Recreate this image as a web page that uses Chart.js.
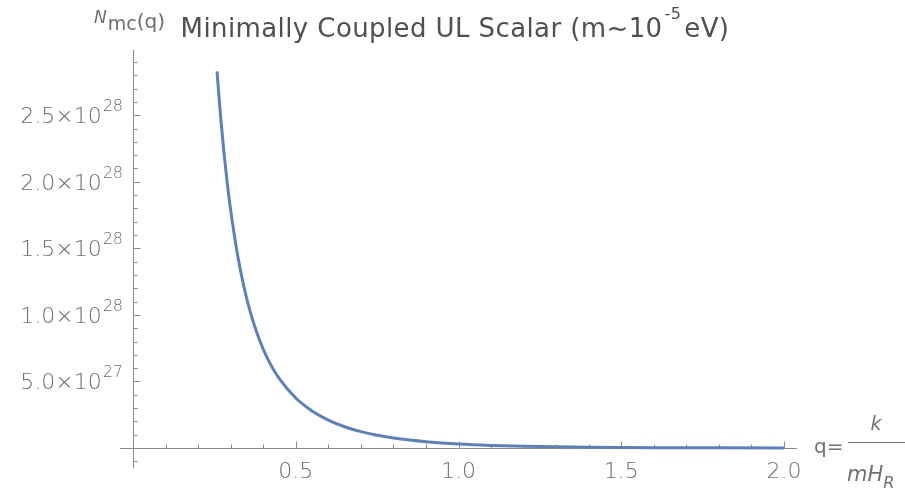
<!DOCTYPE html>
<html>
<head>
<meta charset="utf-8">
<script src="https://cdn.jsdelivr.net/npm/chart.js@4.4.1/dist/chart.umd.min.js"></script>
<style>
html,body{margin:0;padding:0;background:#ffffff;}
#wrap{width:905px;height:490px;position:relative;}
</style>
</head>
<body>
<div id="wrap"><canvas id="c" width="905" height="490"></canvas></div>
<script>
// ---- data ----
const qValues = [0.258, 0.27, 0.28, 0.29, 0.30, 0.32, 0.34, 0.36, 0.38, 0.40, 0.42, 0.45, 0.50, 0.55, 0.60, 0.65, 0.70, 0.75, 0.80, 0.85, 0.90, 1.0, 1.1, 1.2, 1.3, 1.4, 1.6, 1.8, 2.0];
const nValues = [2.83e28, 2.464e28, 2.205e28, 1.981e28, 1.787e28, 1.467e28, 1.219e28, 1.024e28, 8.69e27, 7.43e27, 6.40e27, 5.19e27, 3.76e27, 2.785e27, 2.096e27, 1.598e27, 1.232e27, 9.59e26, 7.53e26, 5.955e26, 4.74e26, 3.045e26, 1.99e26, 1.32e26, 8.9e25, 6.06e25, 2.9e25, 1.44e25, 7.2e24];

const xTickValues = [0.5, 1.0, 1.5, 2.0];
const xTickLabels = ["0.5", "1.0", "1.5", "2.0"];
const yTickValues = [5e27, 1e28, 1.5e28, 2e28, 2.5e28];
const yTickMantissas = ["5.0", "1.0", "1.5", "2.0", "2.5"];
const yTickExponents = ["27", "28", "28", "28", "28"];

const titleMain = "Minimally Coupled UL Scalar (m~10";
const titleSup = "-5";
const titleEnd = "eV)";

// ---- styling ----
const curveColor = "#5E81B5";
const axisColor = "#8a8a8a";
const labelColor = "#6c6c6c";
const titleColor = "#505050";
const FONT = '"DejaVu Sans"';

function px(scale, v) { return scale.getPixelForValue(v); }

const mathAxes = {
  id: "mathAxes",
  beforeDatasetsDraw(chart) {
    const ctx = chart.ctx, xs = chart.scales.x, ys = chart.scales.y, ca = chart.chartArea;
    const x0 = Math.round(px(xs, 0)) + 0.5;
    const y0 = Math.round(px(ys, 0)) + 0.5;
    ctx.save();
    ctx.strokeStyle = axisColor;
    ctx.lineWidth = 1;
    ctx.beginPath();
    ctx.moveTo(ca.left, y0); ctx.lineTo(ca.right, y0);
    ctx.moveTo(x0, ca.top); ctx.lineTo(x0, ca.bottom);
    for (let i = 1; i * 0.1 <= xs.max + 1e-9; i++) {
      const major = i % 5 === 0;
      const p = Math.round(px(xs, i * 0.1)) + 0.5;
      ctx.moveTo(p, y0); ctx.lineTo(p, y0 - (major ? 7 : 4));
    }
    for (let i = -1; i * 1e27 <= ys.max; i++) {
      if (i === 0) continue;
      const major = i % 5 === 0;
      const p = Math.round(px(ys, i * 1e27)) + 0.5;
      ctx.moveTo(x0, p); ctx.lineTo(x0 + (major ? 7 : 4), p);
    }
    ctx.stroke();
    ctx.restore();
  },
  afterDraw(chart) {
    const ctx = chart.ctx, xs = chart.scales.x, ys = chart.scales.y;
    const x0 = px(xs, 0), y0 = px(ys, 0);
    const tickFont = "200 22px " + FONT;
    const supFont = "200 16px " + FONT;
    ctx.save();
    ctx.textBaseline = "alphabetic";
    // x tick labels
    ctx.fillStyle = labelColor;
    ctx.font = tickFont;
    ctx.textAlign = "center";
    xTickValues.forEach((v, i) => {
      ctx.fillText(xTickLabels[i], px(xs, v), y0 + 30);
    });
    // y tick labels
    ctx.textAlign = "left";
    yTickValues.forEach((v, i) => {
      const p = px(ys, v);
      const main = yTickMantissas[i] + "\u00D710";
      ctx.font = tickFont;
      const wm = ctx.measureText(main).width;
      ctx.font = supFont;
      const ws = ctx.measureText(yTickExponents[i]).width;
      const start = x0 - 11 - wm - ws;
      ctx.font = tickFont;
      ctx.fillText(main, start, p + 8);
      ctx.font = supFont;
      ctx.fillText(yTickExponents[i], start + wm + 1, p - 4);
    });
    // y axis label N_mc(q)
    ctx.fillStyle = "#6e6e6e";
    ctx.font = "italic 17px " + FONT;
    ctx.fillText("N", 94, 23);
    let nx = 94 + ctx.measureText("N").width + 1;
    ctx.font = "19px " + FONT;
    ctx.fillText("mc", nx, 30);
    nx += ctx.measureText("mc").width;
    ctx.font = "20px " + FONT;
    ctx.fillText("(q)", nx, 28);
    // x axis label q = k / (m H_R)
    ctx.fillStyle = "#707070";
    ctx.font = "20px " + FONT;
    ctx.fillText("q=", 814, 453);
    ctx.strokeStyle = "#707070";
    ctx.lineWidth = 1;
    ctx.beginPath();
    ctx.moveTo(848, 442.5); ctx.lineTo(905, 442.5);
    ctx.stroke();
    ctx.font = "italic 19px " + FONT;
    ctx.textAlign = "center";
    ctx.fillText("k", 876, 430);
    ctx.textAlign = "left";
    ctx.font = "italic 21px " + FONT;
    ctx.fillText("mH", 847, 481);
    const wmh = ctx.measureText("mH").width;
    ctx.font = "italic 16px " + FONT;
    ctx.fillText("R", 847 + wmh, 488);
    // title
    ctx.fillStyle = titleColor;
    ctx.letterSpacing = "0.4px";
    ctx.font = "26px " + FONT;
    const w1 = ctx.measureText(titleMain).width;
    const w3 = ctx.measureText(titleEnd).width;
    ctx.font = "16px " + FONT;
    const w2 = ctx.measureText(titleSup).width;
    const total = w1 + 2 + w2 + 3 + w3;
    let tx = 455 - total / 2;
    ctx.font = "26px " + FONT;
    ctx.fillText(titleMain, tx, 37);
    tx += w1 + 2;
    ctx.font = "16px " + FONT;
    ctx.fillText(titleSup, tx, 19);
    tx += w2 + 3;
    ctx.font = "26px " + FONT;
    ctx.fillText(titleEnd, tx, 37);
    ctx.restore();
  }
};

new Chart(document.getElementById("c"), {
  type: "line",
  data: {
    datasets: [{
      data: qValues.map((q, i) => ({ x: q, y: nValues[i] })),
      borderColor: curveColor,
      borderWidth: 3,
      pointRadius: 0,
      fill: false,
      cubicInterpolationMode: "monotone"
    }]
  },
  options: {
    responsive: false,
    animation: false,
    devicePixelRatio: 1,
    layout: { padding: { left: 120, right: 108, top: 50, bottom: 22 } },
    plugins: { legend: { display: false }, title: { display: false }, tooltip: { enabled: false } },
    scales: {
      x: { type: "linear", min: -0.04, max: 2.04, display: false },
      y: { type: "linear", min: -1.5e27, max: 2.99e28, display: false }
    }
  },
  plugins: [mathAxes]
});
</script>
</body>
</html>
